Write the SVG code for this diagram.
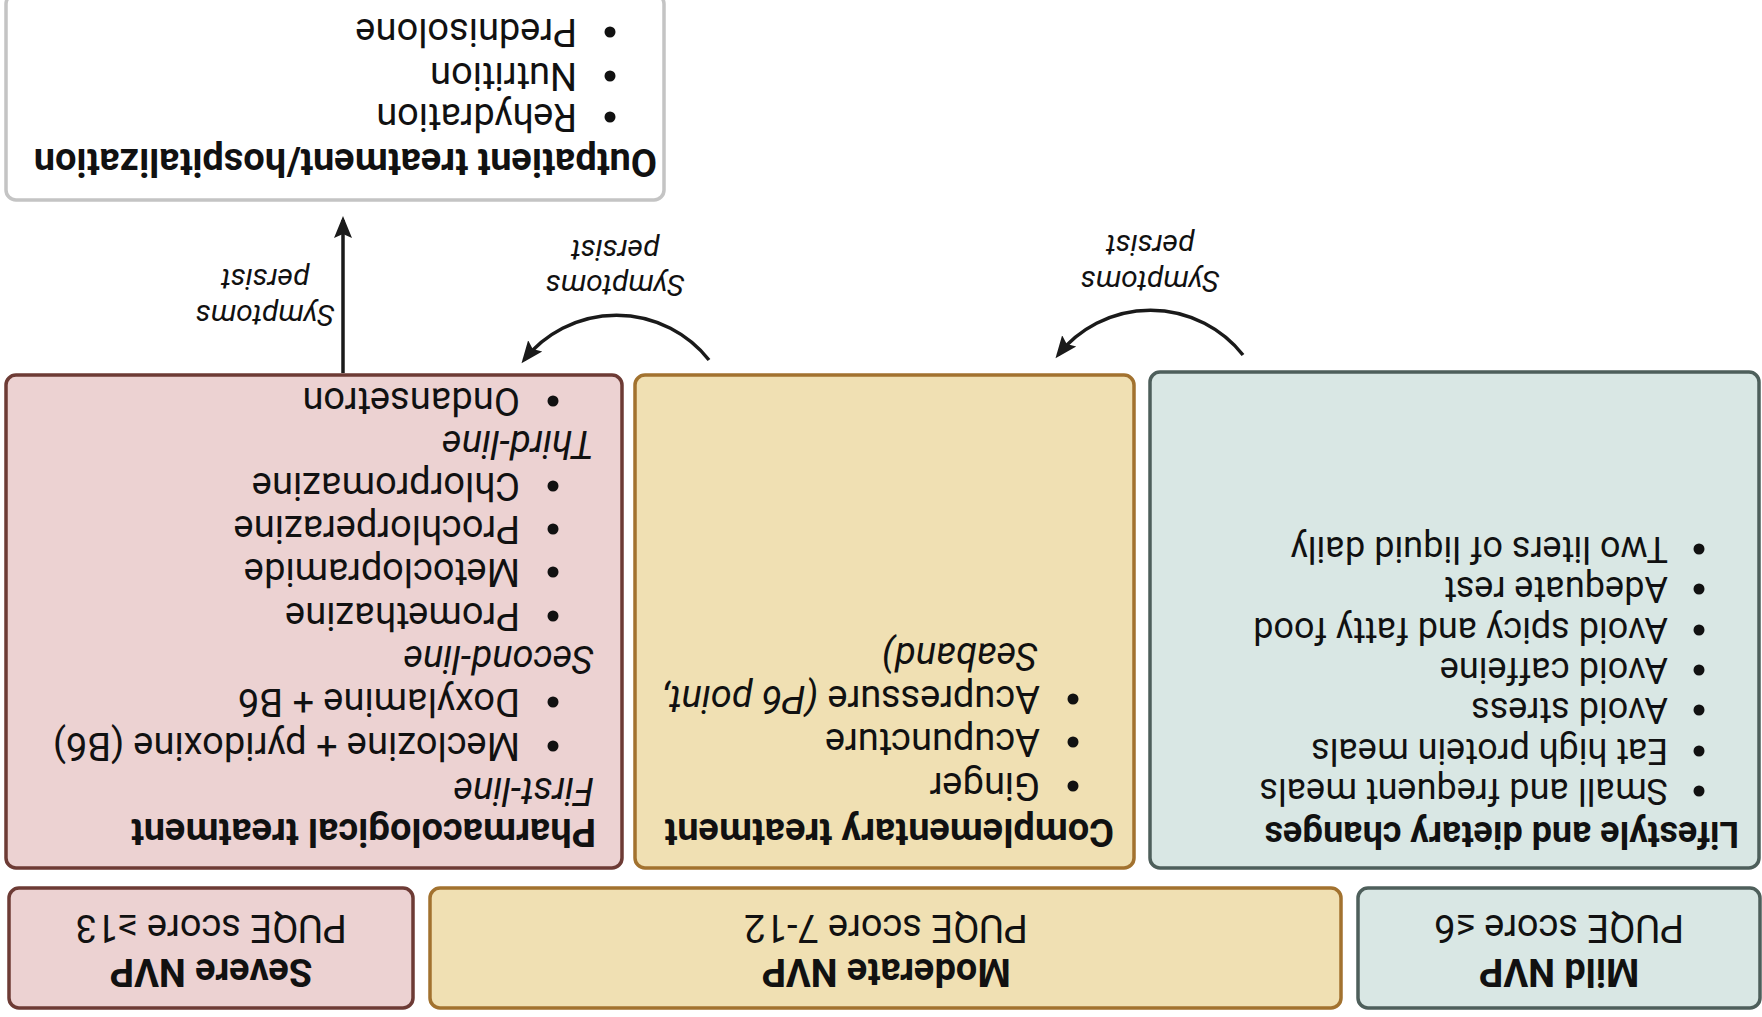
<svg xmlns="http://www.w3.org/2000/svg" width="1762" height="1017" viewBox="0 0 1762 1017">
<style>
  text { font-family: Roboto, "Liberation Sans", Arial, sans-serif; fill: #111; }
  .t { font-size: 38px; font-weight: bold; }
  .b { font-size: 38px; }
  #lifestyle .t, #lifestyle .b { font-size: 36px; }
  .i { font-style: italic; }
  .lbl { font-size: 30px; font-style: italic; text-anchor: middle; }
  .c { text-anchor: middle; }
  .dot { fill: #111; }
  .pink { fill: #ecd2d2; stroke: #6d3b35; stroke-width: 3.5; }
  .yel { fill: #f0e0b3; stroke: #a2722f; stroke-width: 3.5; }
  .teal { fill: #d9e7e4; stroke: #4e5f5b; stroke-width: 3.5; }
  .white { fill: #ffffff; stroke: #c4c4c4; stroke-width: 3.5; }
  .conn { fill: none; stroke: #1a1a1a; stroke-width: 3.5; }
</style>
<defs>
  <marker id="ah" markerUnits="userSpaceOnUse" markerWidth="24" markerHeight="20" viewBox="0 0 24 20" refX="18" refY="10" orient="auto">
    <path d="M0,1 L22,10 L0,19 L4,10 z" fill="#1a1a1a"/>
  </marker>
</defs>
<rect width="1762" height="1017" fill="#ffffff"/>
<g transform="rotate(180 881 508.5)">
  <g id="mild">
    <rect class="teal" x="2" y="9" width="402" height="120" rx="10"/>
    <text class="t c" x="203" y="58">Mild NVP</text>
    <text class="b c" x="203" y="102">PUQE score ≤6</text>
  </g>
  <g id="moderate">
    <rect class="yel" x="421" y="9" width="911" height="120" rx="10"/>
    <text class="t c" x="876" y="58">Moderate NVP</text>
    <text class="b c" x="876" y="102">PUQE score 7-12</text>
  </g>
  <g id="severe">
    <rect class="pink" x="1349" y="9" width="404" height="120" rx="10"/>
    <text class="t c" x="1551" y="58">Severe NVP</text>
    <text class="b c" x="1551" y="102">PUQE score ≥13</text>
  </g>
  <g id="lifestyle">
    <rect class="teal" x="3" y="149" width="609" height="496" rx="10"/>
    <text class="t" x="23" y="195">Lifestyle and dietary changes</text>
    <circle class="dot" cx="63" cy="226" r="5.5"/><text class="b" x="94" y="238">Small and frequent meals</text>
    <circle class="dot" cx="63" cy="266" r="5.5"/><text class="b" x="94" y="278">Eat high protein meals</text>
    <circle class="dot" cx="63" cy="307" r="5.5"/><text class="b" x="94" y="319">Avoid stress</text>
    <circle class="dot" cx="63" cy="347" r="5.5"/><text class="b" x="94" y="359">Avoid caffeine</text>
    <circle class="dot" cx="63" cy="387" r="5.5"/><text class="b" x="94" y="399">Avoid spicy and fatty food</text>
    <circle class="dot" cx="63" cy="428" r="5.5"/><text class="b" x="94" y="440">Adequate rest</text>
    <circle class="dot" cx="63" cy="468" r="5.5"/><text class="b" x="94" y="480">Two liters of liquid daily</text>
  </g>
  <g id="complementary">
    <rect class="yel" x="628" y="149" width="499" height="493" rx="10"/>
    <text class="t" x="648" y="198">Complementary treatment</text>
    <circle class="dot" cx="689" cy="231" r="5.5"/><text class="b" x="722" y="244">Ginger</text>
    <circle class="dot" cx="689" cy="275" r="5.5"/><text class="b" x="722" y="288">Acupuncture</text>
    <circle class="dot" cx="689" cy="318" r="5.5"/><text class="b" x="722" y="331">Acupressure <tspan class="i">(P6 point,</tspan></text>
    <text class="b i" x="724" y="374">Seaband)</text>
  </g>
  <g id="pharmacological">
    <rect class="pink" x="1140" y="149" width="616" height="493" rx="10"/>
    <text class="t" x="1166" y="198">Pharmacological treatment</text>
    <text class="b i" x="1168" y="239">First-line</text>
    <circle class="dot" cx="1209" cy="271" r="5.5"/><text class="b" x="1242" y="284">Meclozine + pyridoxine (B6)</text>
    <circle class="dot" cx="1209" cy="315" r="5.5"/><text class="b" x="1242" y="328">Doxylamine + B6</text>
    <text class="b i" x="1168" y="371">Second-line</text>
    <circle class="dot" cx="1209" cy="401" r="5.5"/><text class="b" x="1242" y="414">Promethazine</text>
    <circle class="dot" cx="1209" cy="445" r="5.5"/><text class="b" x="1242" y="458">Metoclopramide</text>
    <circle class="dot" cx="1209" cy="488" r="5.5"/><text class="b" x="1242" y="501">Prochlorperazine</text>
    <circle class="dot" cx="1209" cy="531" r="5.5"/><text class="b" x="1242" y="544">Chlorpromazine</text>
    <text class="b i" x="1168" y="586">Third-line</text>
    <circle class="dot" cx="1209" cy="616" r="5.5"/><text class="b" x="1242" y="629">Ondansetron</text>
  </g>
  <g id="outpatient">
    <rect class="white" x="1098" y="817" width="658" height="206" rx="10"/>
    <text class="t" x="1105" y="868">Outpatient treatment/hospitalization</text>
    <circle class="dot" cx="1152" cy="900" r="5.5"/><text class="b" x="1185" y="913">Rehydration</text>
    <circle class="dot" cx="1152" cy="941" r="5.5"/><text class="b" x="1185" y="954">Nutrition</text>
    <circle class="dot" cx="1152" cy="985" r="5.5"/><text class="b" x="1185" y="998">Prednisolone</text>
  </g>
  <g id="connectors">
    <path class="conn" d="M519,662 A118,118 0 0 0 704,662" marker-end="url(#ah)"/>
    <path class="conn" d="M1053,657 A118,118 0 0 0 1238,657" marker-end="url(#ah)"/>
    <path class="conn" d="M1419,644 L1419,797" marker-end="url(#ah)"/>
    <text class="lbl" x="612" y="746">Symptoms</text>
    <text class="lbl" x="612" y="782">persist</text>
    <text class="lbl" x="1147" y="742">Symptoms</text>
    <text class="lbl" x="1147" y="777">persist</text>
    <text class="lbl" x="1497" y="712">Symptoms</text>
    <text class="lbl" x="1497" y="748">persist</text>
  </g>
</g>
</svg>
